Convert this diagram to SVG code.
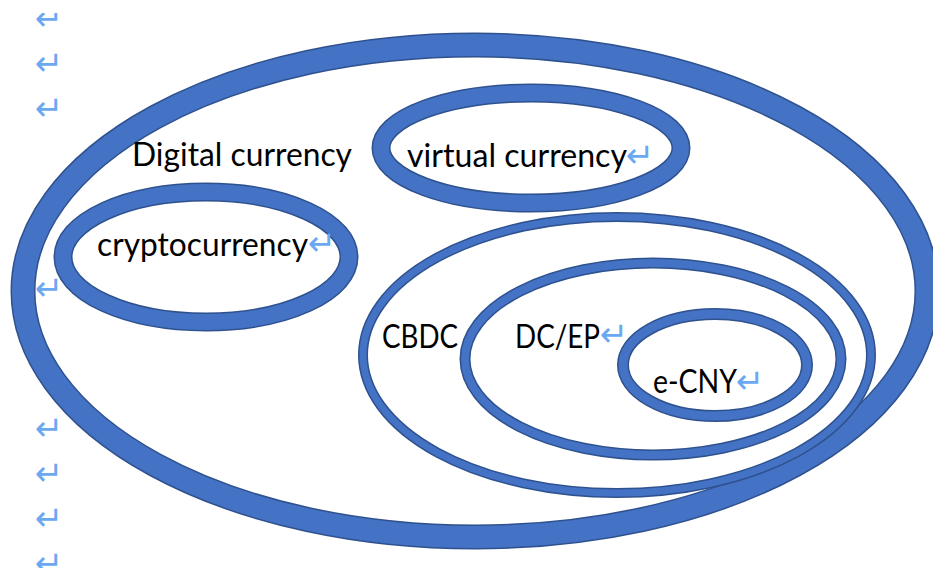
<svg xmlns="http://www.w3.org/2000/svg" width="933" height="568" viewBox="0 0 933 568">
  <defs>
    <style>
      .edge { fill: none; stroke: #2F528F; }
      .band { fill: none; stroke: #4472C4; }
      .label { font-family: Lato, "Open Sans", "Liberation Sans", sans-serif; font-size: 32px; fill: #000; }
      .mark { font-family: "DejaVu Sans", sans-serif; font-size: 34px; fill: #6AA8F2; }
    </style>
    <clipPath id="page">
      <rect x="0" y="13" width="933" height="555"/>
    </clipPath>
  </defs>
  <rect width="933" height="568" fill="#fff"/>

  <!-- paragraph marks down the left margin -->
  <g id="margin-marks" clip-path="url(#page)">
    <text class="mark" x="35" y="30">↵</text>
    <text class="mark" x="35" y="75">↵</text>
    <text class="mark" x="35" y="120">↵</text>
    <text class="mark" x="35" y="300">↵</text>
    <text class="mark" x="35" y="440">↵</text>
    <text class="mark" x="35" y="485">↵</text>
    <text class="mark" x="35" y="530">↵</text>
    <text class="mark" x="35" y="575">↵</text>
  </g>

  <!-- outer set -->
  <g id="digital-currency">
    <ellipse class="edge" cx="475" cy="291" rx="452" ry="246" stroke-width="25"/>
    <ellipse class="band" cx="475" cy="291" rx="452" ry="246" stroke-width="22"/>
    <text class="label" x="132" y="166" textLength="220" lengthAdjust="spacingAndGlyphs">Digital currency</text>
  </g>

  <g id="virtual-currency">
    <ellipse class="edge" cx="531" cy="148" rx="150" ry="55" stroke-width="19"/>
    <ellipse class="band" cx="531" cy="148" rx="150" ry="55" stroke-width="16"/>
    <text class="label" x="407" y="167" textLength="220" lengthAdjust="spacingAndGlyphs">virtual currency</text>
    <text class="mark" x="626" y="167">↵</text>
  </g>

  <g id="cryptocurrency">
    <ellipse class="edge" cx="206" cy="257" rx="143" ry="65" stroke-width="19"/>
    <ellipse class="band" cx="206" cy="257" rx="143" ry="65" stroke-width="16"/>
    <text class="label" x="97" y="256" textLength="211" lengthAdjust="spacingAndGlyphs">cryptocurrency</text>
    <text class="mark" x="308" y="255">↵</text>
  </g>

  <g id="cbdc">
    <ellipse class="edge" cx="617" cy="355" rx="254" ry="138" stroke-width="10"/>
    <ellipse class="band" cx="617" cy="355" rx="254" ry="138" stroke-width="7"/>
    <text class="label" x="382" y="348" textLength="76" lengthAdjust="spacingAndGlyphs">CBDC</text>
  </g>

  <g id="dc-ep">
    <ellipse class="edge" cx="653" cy="359" rx="188" ry="96" stroke-width="11"/>
    <ellipse class="band" cx="653" cy="359" rx="188" ry="96" stroke-width="8"/>
    <text class="label" x="515" y="348" textLength="85" lengthAdjust="spacingAndGlyphs">DC/EP</text>
    <text class="mark" x="600" y="346">↵</text>
  </g>

  <g id="e-cny">
    <ellipse class="edge" cx="715" cy="365" rx="92" ry="51" stroke-width="12"/>
    <ellipse class="band" cx="715" cy="365" rx="92" ry="51" stroke-width="9"/>
    <text class="label" x="653" y="393" textLength="84" lengthAdjust="spacingAndGlyphs">e-CNY</text>
    <text class="mark" x="736" y="393">↵</text>
  </g>
</svg>
